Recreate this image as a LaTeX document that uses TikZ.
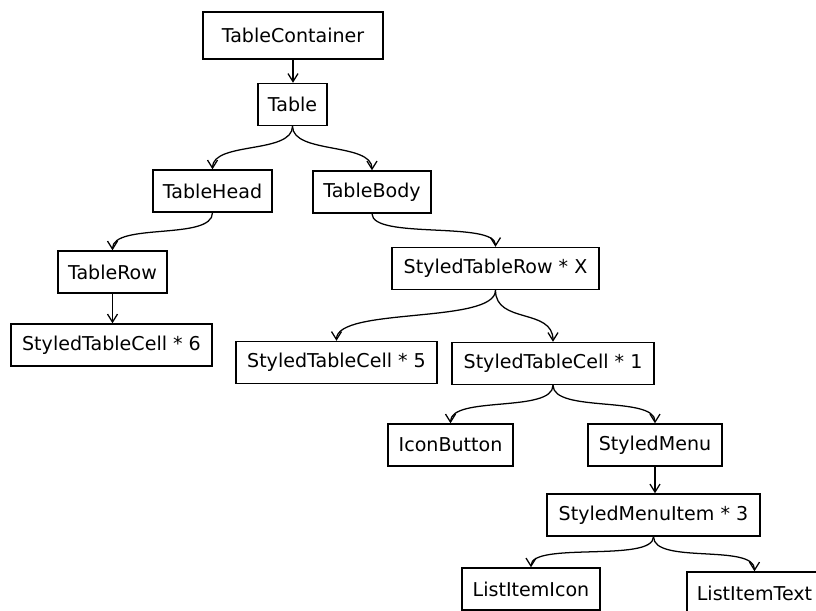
\documentclass[tikz,border=0pt]{standalone}
\usepackage{fontspec}
\setmainfont{DejaVu Sans}
\usetikzlibrary{arrows.meta}

\begin{document}
\begin{tikzpicture}[
        x=0.75pt,
        y=-0.75pt,
        comp/.style={
            draw=black,
            line width=1.1pt,
            minimum height=31.5pt,
            inner sep=0pt,
            font=\fontsize{14.3}{17}\selectfont
        },
        link/.style={
            -{Straight Barb[length=6pt,width=7.5pt]},
            line width=0.95pt,
            draw=black
        }
    ]
        \useasboundingbox (0,0) rectangle (816,610);
        \clip (0,0) rectangle (816,610);

        \node[comp, minimum width=135pt, minimum height=35.25pt] (container) at (293,35.5) {TableContainer};
        \node[comp, minimum width=51.75pt] (table) at (292.5,104.5) {Table};
        \node[comp, minimum width=89.25pt] (head) at (212.5,191) {TableHead};
        \node[comp, minimum width=88.5pt] (body) at (372,192) {TableBody};
        \node[comp, minimum width=81.75pt] (row) at (112.5,272) {TableRow};
        \node[comp, minimum width=155.25pt] (styledrow) at (495.5,268.5) {StyledTableRow * X};
        \node[comp, minimum width=150.75pt] (cellsix) at (111.5,345) {StyledTableCell * 6};
        \node[comp, minimum width=150.75pt] (cellfive) at (336.5,362.5) {StyledTableCell * 5};
        \node[comp, minimum width=151.5pt] (cellone) at (553,363.5) {StyledTableCell * 1};
        \node[comp, minimum width=93.75pt] (iconbtn) at (450.5,445) {IconButton};
        \node[comp, minimum width=100.5pt] (menu) at (655,445) {StyledMenu};
        \node[comp, minimum width=159.75pt] (menuitem) at (653.5,515) {StyledMenuItem * 3};
        \node[comp, minimum width=103.5pt] (itemicon) at (531,589) {ListItemIcon};
        \node[comp, minimum width=101pt] (itemtext) at (754.5,593) {ListItemText};

        \draw[link] (container.south) -- (container.south |- table.north);
        \draw[link] (table.south) .. controls +(0,28) and +(0,-28) .. (head.north);
        \draw[link] (table.south) .. controls +(0,28) and +(0,-28) .. (body.north);
        \draw[link] (head.south) .. controls +(0,28) and +(0,-28) .. (row.north);
        \draw[link] (body.south) .. controls +(0,26) and +(0,-26) .. (styledrow.north);
        \draw[link] (row.south) -- (row.south |- cellsix.north);
        \draw[link] (styledrow.south) .. controls +(0,34) and +(0,-34) .. (cellfive.north);
        \draw[link] (styledrow.south) .. controls +(0,34) and +(0,-34) .. (cellone.north);
        \draw[link] (cellone.south) .. controls +(0,28) and +(0,-28) .. (iconbtn.north);
        \draw[link] (cellone.south) .. controls +(0,28) and +(0,-28) .. (menu.north);
        \draw[link] (menu.south) -- (menu.south |- menuitem.north);
        \draw[link] (menuitem.south) .. controls +(0,26) and +(0,-26) .. (itemicon.north);
        \draw[link] (menuitem.south) .. controls +(0,28) and +(0,-28) .. (itemtext.north);
    \end{tikzpicture}
\end{document}
